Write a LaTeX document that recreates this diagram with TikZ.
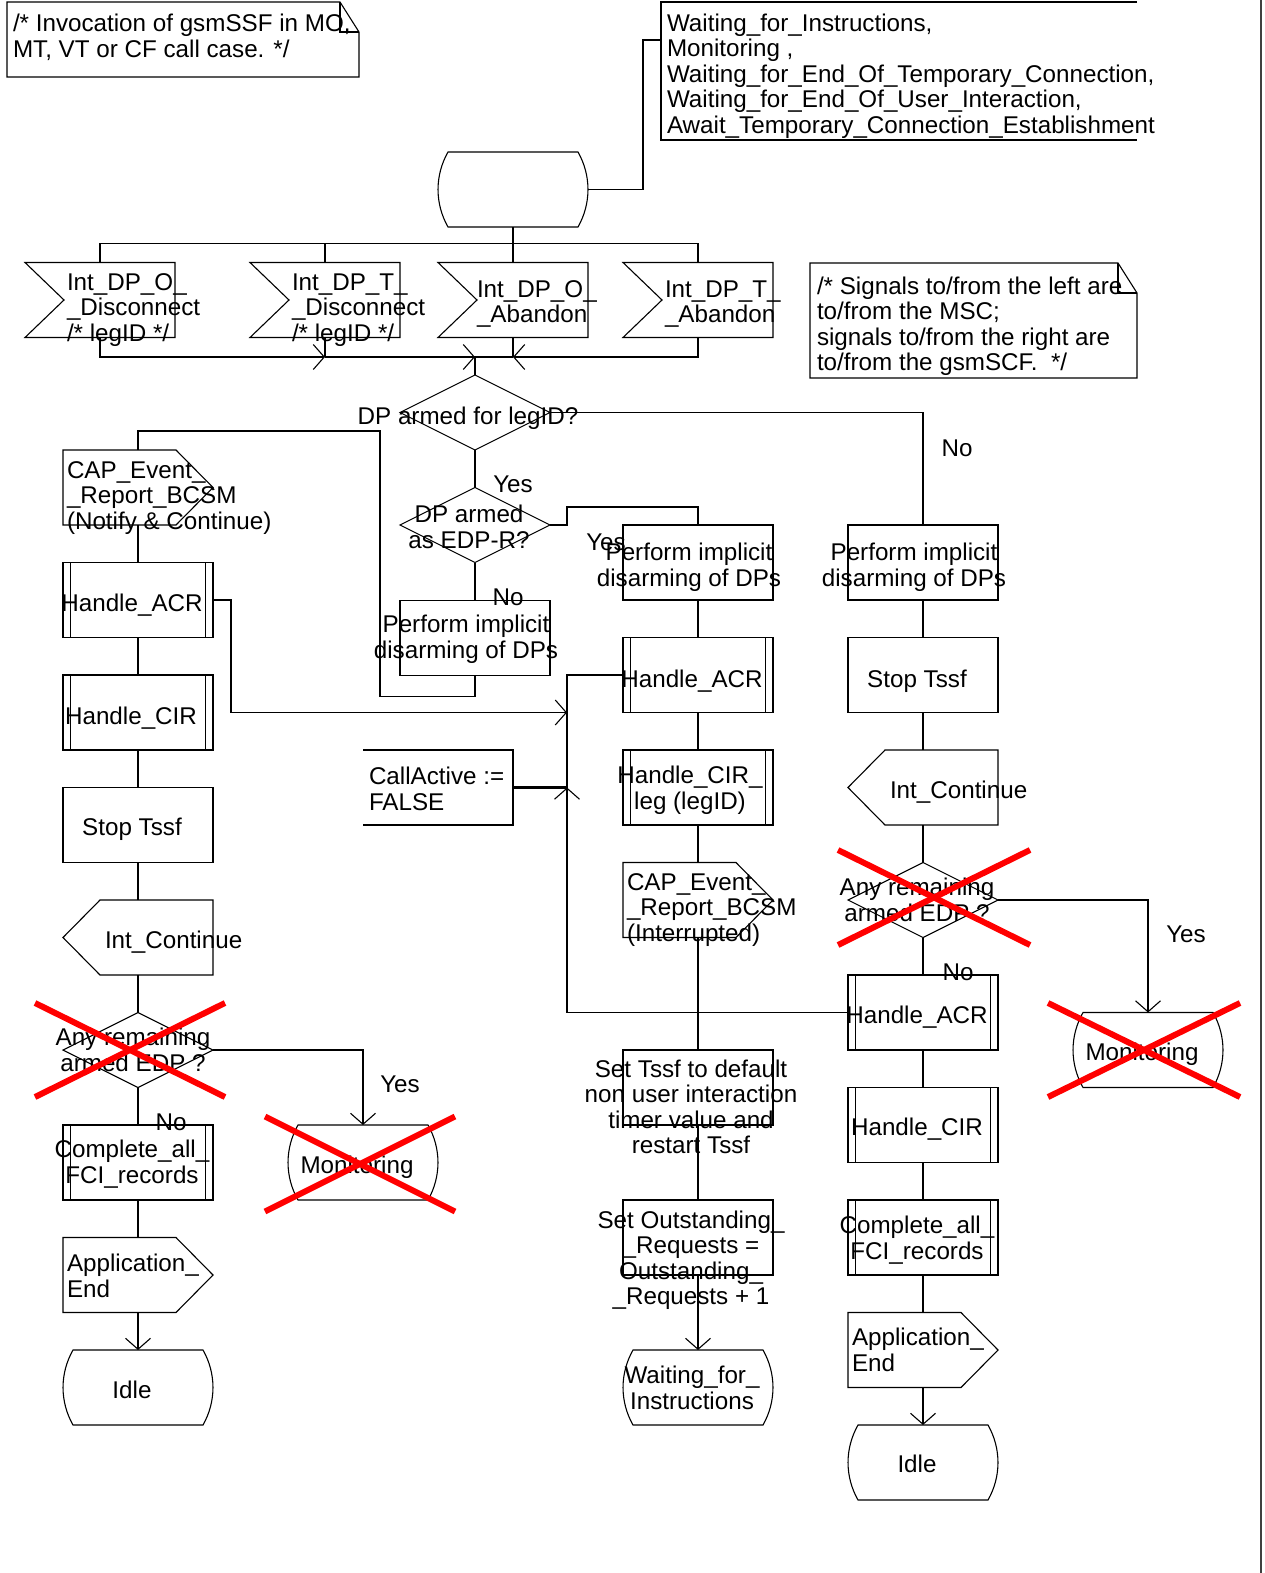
\documentclass[tikz,border=0pt]{standalone}
\usepackage{fontspec}
\setmainfont{Liberation Sans}
\usetikzlibrary{arrows.meta,calc}

% strut used on the first and last line of every text node
\newcommand\sx{\rule[-7pt]{0pt}{25pt}}

% SDL symbol outlines drawn around an empty, named rectangle node
\newcommand\sdlstate[1]{\draw[ln] ($(#1.north west)+(10,0)$) -- ($(#1.north east)+(-10,0)$)
  .. controls ($(#1.east)+(3.3,-14)$) and ($(#1.east)+(3.3,14)$) .. ($(#1.south east)+(-10,0)$)
  -- ($(#1.south west)+(10,0)$)
  .. controls ($(#1.west)+(-3.3,14)$) and ($(#1.west)+(-3.3,-14)$) .. cycle;}
\newcommand\sdlinput[1]{\draw[ln] (#1.north west) -- (#1.north east) -- (#1.south east)
  -- (#1.south west) -- ($(#1.west)+(39,0)$) -- cycle;}
\newcommand\sdloutR[1]{\draw[ln] (#1.north west) -- ($(#1.north east)+(-37,0)$) -- (#1.east)
  -- ($(#1.south east)+(-37,0)$) -- (#1.south west) -- cycle;}
\newcommand\sdloutL[1]{\draw[ln] ($(#1.north west)+(37,0)$) -- (#1.north east) -- (#1.south east)
  -- ($(#1.south west)+(37,0)$) -- (#1.west) -- cycle;}
\newcommand\sdlproc[1]{\draw[ln] (#1.north west) rectangle (#1.south east);
  \draw[ln] ($(#1.north west)+(7.5,0)$) -- ($(#1.south west)+(7.5,0)$);
  \draw[ln] ($(#1.north east)+(-7.5,0)$) -- ($(#1.south east)+(-7.5,0)$);}
\newcommand\sdltask[1]{\draw[ln] (#1.north west) rectangle (#1.south east);}
\newcommand\sdldec[1]{\draw[ln] (#1.north) -- (#1.east) -- (#1.south) -- (#1.west) -- cycle;}
\newcommand\sdlnote[1]{\draw[ln] (#1.north west) -- ($(#1.north east)+(-19,0)$) -- ($(#1.north east)+(0,30)$)
  -- (#1.south east) -- (#1.south west) -- cycle;
  \draw[ln] ($(#1.north east)+(-19,0)$) -- ($(#1.north east)+(-19,30)$) -- ($(#1.north east)+(0,30)$);}
\newcommand\sdlcross[5]{\draw[cross] ($(#1)+(#2,#3)$) -- ($(#1)+(#4,#5)$);
  \draw[cross] ($(#1)+(#2,#5)$) -- ($(#1)+(#4,#3)$);}

\begin{document}
\begin{tikzpicture}[x=1pt,y=-1pt,
  every node/.style={inner sep=0pt, outer sep=0pt},
  ln/.style={line width=1.1pt},
  thk/.style={line width=2.2pt},
  cross/.style={line width=6pt, draw={rgb,255:red,255;green,0;blue,0}},
  box/.style={minimum width=150pt, minimum height=75pt},
  txt/.style={font=\fontsize{24.2pt}{25.5pt}\selectfont, yshift=-2pt,
    execute at begin node=\sx, execute at end node=\sx},
  lt/.style={txt, align=left, anchor=west},
  ct/.style={txt, align=center},
  barb/.tip={Straight Barb[length=11pt,width=25pt,line width=1.1pt]}
]
\useasboundingbox (0,0) rectangle (1265,1573);

% ---------- symbols ----------
\node[minimum width=352pt, minimum height=75pt] (noteTL) at (183,39.5) {};
\node[minimum width=476pt, minimum height=138pt] (waitC) at (899,71) {};
\node[box] (st0) at (513,189.5) {};
\node[box] (in1) at (100,300) {};
\node[box] (in2) at (325,300) {};
\node[box] (in3) at (513,300) {};
\node[box] (in4) at (698,300) {};
\node[minimum width=327pt, minimum height=115pt] (noteR) at (973.5,320.5) {};
\node[box] (d1) at (475,412.5) {};
\node[box] (d2) at (475,525) {};
\node[box] (pM) at (475,638) {};

\node[box] (capL) at (138,487.5) {};
\node[box] (acrL) at (138,600) {};
\node[box] (cirL) at (138,712.5) {};
\node[box] (stopL) at (138,825) {};
\node[box] (icL) at (138,937.5) {};
\node[box] (dAL) at (138,1050) {};
\node[box] (complL) at (138,1162.5) {};
\node[box] (appL) at (138,1275) {};
\node[box] (idleL) at (138,1387.5) {};
\node[box] (monL) at (363,1162.5) {};
\node[box] (caB) at (438,787.5) {};

\node[box] (pMc) at (698,562.5) {};
\node[box] (acrM) at (698,675) {};
\node[box] (cirM) at (698,787.5) {};
\node[box] (capM) at (698,900) {};
\node[box] (setT) at (698,1087.5) {};
\node[box] (setO) at (698,1237.5) {};
\node[box] (waitS) at (698,1387.5) {};

\node[box] (pR) at (923,562.5) {};
\node[box] (stopR) at (923,675) {};
\node[box] (icR) at (923,787.5) {};
\node[box] (dAR) at (923,900) {};
\node[box] (acrR) at (923,1012.5) {};
\node[box] (cirR) at (923,1125) {};
\node[box] (complR) at (923,1237.5) {};
\node[box] (appR) at (923,1350) {};
\node[box] (idleR) at (923,1462.5) {};
\node[box] (monR) at (1148,1050) {};

\sdlnote{noteTL}
\draw[ln] (waitC.north east) -- (waitC.north west) -- (waitC.south west) -- (waitC.south east);
\sdlstate{st0}
\sdlinput{in1} \sdlinput{in2} \sdlinput{in3} \sdlinput{in4}
\sdlnote{noteR}
\sdldec{d1} \sdldec{d2} \sdltask{pM}

\sdloutR{capL} \sdlproc{acrL} \sdlproc{cirL} \sdltask{stopL} \sdloutL{icL}
\sdldec{dAL} \sdlproc{complL} \sdloutR{appL} \sdlstate{idleL} \sdlstate{monL}
\draw[ln] (caB.north west) -- (caB.north east) -- (caB.south east) -- (caB.south west);

\sdltask{pMc} \sdlproc{acrM} \sdlproc{cirM} \sdloutR{capM} \sdltask{setT} \sdltask{setO} \sdlstate{waitS}

\sdltask{pR} \sdltask{stopR} \sdloutL{icR} \sdldec{dAR} \sdlproc{acrR} \sdlproc{cirR}
\sdlproc{complR} \sdloutR{appR} \sdlstate{idleR} \sdlstate{monR}

% ---------- connectors ----------
\coordinate (cW) at (661,40);
\coordinate (m1) at (325,357);
\coordinate (m2) at (475,357);
\coordinate (m3) at (513,357);
\coordinate (jt) at (567,675);
\coordinate (j1) at (567,712.5);
\coordinate (j2) at (567,787.5);
\coordinate (jb) at (567,1012.5);
\coordinate (edgeT) at (1261,0);
\coordinate (edgeB) at (1261,1573);

\draw[ln] (st0.east) -- ++(55,0) |- (cW);
\draw[ln] (st0.south) -- (in3.north);
\draw[ln] (in1.north) -- ++(0,-19) -| (in4.north);
\draw[ln] (in2.north) -- ++(0,-19);

\draw[ln,-{barb}] (in1.south) |- (m1);
\draw[ln] (in2.south) -- (m1);
\draw[ln,-{barb}] (in4.south) |- (m3);
\draw[ln] (in3.south) -- (m3);
\draw[thk,-{barb}] (m1) -- (m2);
\draw[thk] (m3) -- (m2) -- (d1.north);

\draw[ln] (d1.east) -| (pR.north);
\draw[ln] (d1.south) -- (d2.north);
\draw[ln] (d2.east) -- ++(17,0) -- ++(0,-18) -| (pMc.north);
\draw[ln] (d2.south) -- (pM.north);
\draw[ln] (pM.south) -- ++(0,21) -- ++(-95,0) |- ($(capL.north)+(0,-19)$) -- (capL.north);

\draw[ln] (capL.south) -- (acrL.north);
\draw[ln] (acrL.south) -- (cirL.north);
\draw[ln] (cirL.south) -- (stopL.north);
\draw[ln] (stopL.south) -- (icL.north);
\draw[ln] (icL.south) -- (dAL.north);
\draw[ln] (dAL.south) -- (complL.north);
\draw[ln] (complL.south) -- (appL.north);
\draw[ln,-{barb}] (appL.south) -- (idleL.north);
\draw[ln,-{barb}] (dAL.east) -| (monL.north);
\draw[ln,-{barb}] (acrL.east) -- ++(18,0) |- (j1);

\draw[ln] (acrR.west) -- (jb);
\draw[ln,-{barb}] (jb) -- (j2);
\draw[ln] (j2) -- (jt) -- (acrM.west);
\draw[thk] (caB.east) -- (j2);

\draw[ln] (pMc.south) -- (acrM.north);
\draw[ln] (acrM.south) -- (cirM.north);
\draw[ln] (cirM.south) -- (capM.north);
\draw[ln] (capM.south) -- (setT.north);
\draw[ln] (setT.south) -- (setO.north);
\draw[ln,-{barb}] (setO.south) -- (waitS.north);

\draw[ln] (pR.south) -- (stopR.north);
\draw[ln] (stopR.south) -- (icR.north);
\draw[ln] (icR.south) -- (dAR.north);
\draw[ln] (dAR.south) -- (acrR.north);
\draw[ln] (acrR.south) -- (cirR.north);
\draw[ln] (cirR.south) -- (complR.north);
\draw[ln] (complR.south) -- (appR.north);
\draw[ln,-{barb}] (appR.south) -- (idleR.north);
\draw[ln,-{barb}] (dAR.east) -| (monR.north);

\draw[line width=1.5pt, black!75] (edgeT) -- (edgeB);

% ---------- texts ----------
\node[lt] (tTL) at (13,37) {/* Invocation of gsmSSF in MO,\\MT, VT or CF call case. */};
\node[lt] (tW) at (667,75) {Waiting\_for\_Instructions,\\Monitoring ,\\Waiting\_for\_End\_Of\_Temporary\_Connection,\\Waiting\_for\_End\_Of\_User\_Interaction,\\Await\_Temporary\_Connection\_Establishment};
\node[lt] (tin1) at (67,309) {Int\_DP\_O\_\\\_Disconnect\\/* legID */};
\node[lt] (tin2) at (292,309) {Int\_DP\_T\_\\\_Disconnect\\/* legID */};
\node[lt] (tin3) at (477,303) {Int\_DP\_O\_\\\_Abandon};
\node[lt] (tin4) at (665,303) {Int\_DP\_T\_\\\_Abandon};
\node[lt] (tnoteR) at (817,325) {/* Signals to/from the left are\\to/from the MSC;\\signals to/from the right are\\to/from the gsmSCF.\ \ */};
\node[ct] (td1) at (468,417) {DP armed for legID?};
\node[ct] (td2) at (469,528) {DP armed\\as EDP-R?};
\node[ct] (tpM) at (466,638) {Perform implicit\\disarming of DPs};
\node[ct] (tpMc) at (689,566) {Perform implicit\\disarming of DPs};
\node[ct] (tpR) at (914,566) {Perform implicit\\disarming of DPs};

\node[lt] (tcapL) at (67,497) {CAP\_Event\_\\\_Report\_BCSM\\(Notify \& Continue)};
\node[ct] (tacrL) at (132,604) {Handle\_ACR};
\node[ct] (tcirL) at (131,717) {Handle\_CIR};
\node[ct] (tstopL) at (132,828) {Stop Tssf};
\node[lt] (ticL) at (105,941) {Int\_Continue};
\node[ct] (tdAL) at (133,1051) {Any remaining\\armed EDP ?};
\node[ct] (tmonL) at (357,1166) {Monitoring};
\node[ct] (tcomplL) at (132,1163) {Complete\_all\_\\FCI\_records};
\node[lt] (tappL) at (67,1277) {Application\_\\End};
\node[ct] (tidleL) at (132,1391) {Idle};
\node[lt] (tcaB) at (369,790) {CallActive :=\\FALSE};

\node[ct] (tacrM) at (692,680) {Handle\_ACR};
\node[ct] (tcirM) at (690,789) {Handle\_CIR\_\\leg (legID)};
\node[lt] (tcapM) at (627,909) {CAP\_Event\_\\\_Report\_BCSM\\(Interrupted)};
\node[ct] (tsetT) at (691,1108) {Set Tssf to default\\non user interaction\\timer value and\\restart Tssf};
\node[ct] (tsetO) at (691,1259) {Set Outstanding\_\\\_Requests =\\Outstanding\_\\\_Requests + 1};
\node[ct] (twaitS) at (692,1389) {Waiting\_for\_\\Instructions};

\node[ct] (tstopR) at (917,680) {Stop Tssf};
\node[lt] (ticR) at (890,791) {Int\_Continue};
\node[ct] (tdAR) at (917,901) {Any remaining\\armed EDP ?};
\node[ct] (tacrR) at (917,1016) {Handle\_ACR};
\node[ct] (tcirR) at (917,1128) {Handle\_CIR};
\node[ct] (tcomplR) at (917,1239) {Complete\_all\_\\FCI\_records};
\node[lt] (tappR) at (852,1351) {Application\_\\End};
\node[ct] (tidleR) at (917,1465) {Idle};
\node[ct] (tmonR) at (1142,1053) {Monitoring};

% branch labels
\node[ct] (lNo1) at (957,449) {No};
\node[ct] (lYes1) at (513,485) {Yes};
\node[ct] (lYes2) at (606,543) {Yes};
\node[ct] (lNo2) at (508,598) {No};
\node[ct] (lYes3) at (400,1085) {Yes};
\node[ct] (lNo3) at (171,1123) {No};
\node[ct] (lYes4) at (1186,935) {Yes};
\node[ct] (lNo4) at (958,973) {No};

% ---------- struck-out symbols ----------
\sdlcross{dAL.center}{-103}{-47}{87}{47}
\sdlcross{monL.center}{-98}{-46}{92}{49}
\sdlcross{dAR.center}{-85}{-50}{107}{45}
\sdlcross{monR.center}{-100}{-47}{92}{47}
\end{tikzpicture}
\end{document}
